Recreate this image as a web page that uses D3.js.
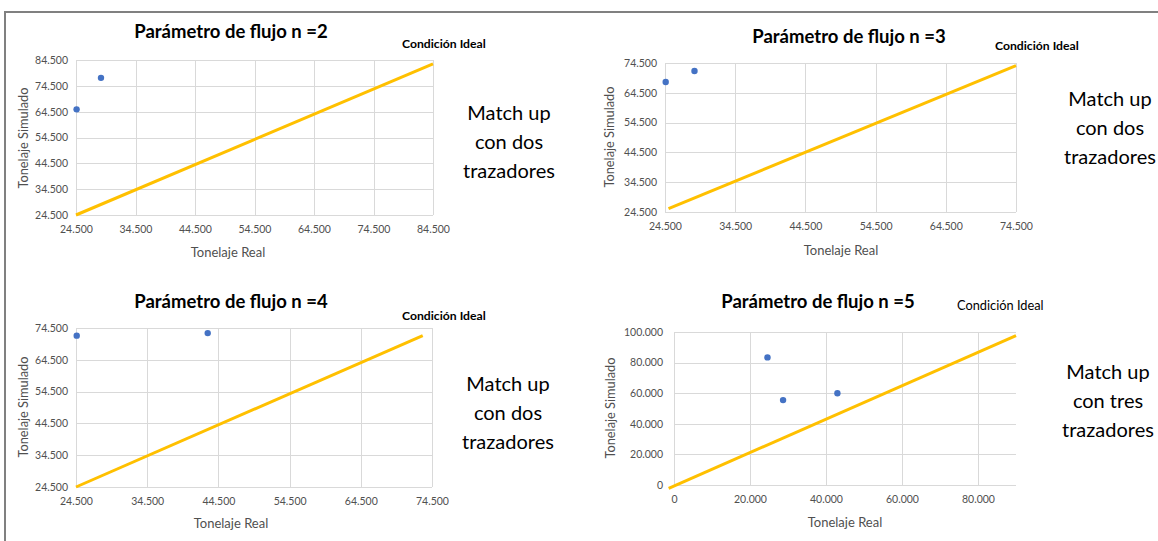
<!DOCTYPE html>
<html>
<head>
<meta charset="utf-8">
<script src="https://cdn.jsdelivr.net/npm/d3@7"></script>
<style>
    body {
        margin: 0;
        background: #fff;
    }
    svg {
        display: block;
        font-family: Lato, "Open Sans", sans-serif;
    }
</style>
</head>
<body>
<script>
// 数据: 真实吨位 / 模拟吨位
const realN2 = [24600, 28700];
const simN2 = [65400, 77600];
const realN3 = [24600, 28700];
const simN3 = [68100, 71800];
const realN4 = [24600, 43000];
const simN4 = [72100, 72900];
const realN5 = [24600, 28700, 43000];
const simN5 = [83400, 55500, 60000];

// 理想线 (Condición Ideal) 的两端
const idealN2 = [[24500, 24500], [84500, 83000]];
const idealN3 = [[25000, 25600], [74500, 73600]];
const idealN4 = [[24500, 24500], [73200, 72100]];
const idealN5 = [[-1400, -2200], [90000, 97600]];

// 刻度
const ticksN2 = [24500, 34500, 44500, 54500, 64500, 74500, 84500];
const ticksN34 = [24500, 34500, 44500, 54500, 64500, 74500];
const ticksN5x = [0, 20000, 40000, 60000, 80000];
const ticksN5y = [0, 20000, 40000, 60000, 80000, 100000];

const titles = ['Parámetro de flujo n =2', 'Parámetro de flujo n =3',
    'Parámetro de flujo n =4', 'Parámetro de flujo n =5'];
const notes = [
    ['Match up', 'con dos', 'trazadores'],
    ['Match up', 'con dos', 'trazadores'],
    ['Match up', 'con dos', 'trazadores'],
    ['Match up', 'con tres', 'trazadores']
];

const width = 1158;
const height = 541;

// 数字格式: 24.500
const locale = d3.formatLocale({decimal: ',', thousands: '.', grouping: [3], currency: ['', '']});
const fmt = locale.format(',d');

// 每个小图的位置
const panels = [
    {
        real: realN2, sim: simN2, ideal: idealN2, xTicks: ticksN2, yTicks: ticksN2,
        xDomain: [24500, 84500], yDomain: [24500, 84500],
        left: 76, right: 433, top: 60, bottom: 215,
        title: [231, 38], cond: [402, 48, true], note: [509, 120], xTitle: [228, 257], yTitle: [24, 138]
    },
    {
        real: realN3, sim: simN3, ideal: idealN3, xTicks: ticksN34, yTicks: ticksN34,
        xDomain: [24500, 74500], yDomain: [24500, 74500],
        left: 665, right: 1016, top: 63, bottom: 212,
        title: [849, 43], cond: [995, 50, true], note: [1110, 106], xTitle: [841, 255], yTitle: [610, 137]
    },
    {
        real: realN4, sim: simN4, ideal: idealN4, xTicks: ticksN34, yTicks: ticksN34,
        xDomain: [24500, 74500], yDomain: [24500, 74500],
        left: 76, right: 432, top: 328, bottom: 487,
        title: [231, 308], cond: [402, 320, true], note: [508, 391], xTitle: [231, 528], yTitle: [24, 407]
    },
    {
        real: realN5, sim: simN5, ideal: idealN5, xTicks: ticksN5x, yTicks: ticksN5y,
        xDomain: [0, 90000], yDomain: [0, 100000],
        left: 674, right: 1016, top: 332, bottom: 485,
        title: [818, 308], cond: [957, 310, false], note: [1108, 379], xTitle: [845, 527], yTitle: [611, 408]
    }
];

const svg = d3.select('body')
    .append('svg')
    .attr('width', width)
    .attr('height', height);

// 外框
svg.append('path')
    .attr('d', `M${width},12H5V${height}`)
    .attr('fill', 'none')
    .attr('stroke', '#808080')
    .attr('stroke-width', 2);

panels.forEach((p, i) => drawPanel(p, i));

/**
 * 画一个小图
 *
 * @param {Object} p 小图配置
 * @param {number} i 序号
 */
function drawPanel(p, i) {
    const x = d3.scaleLinear().domain(p.xDomain).range([p.left, p.right]);
    const y = d3.scaleLinear().domain(p.yDomain).range([p.bottom, p.top]);
    const g = svg.append('g');

    // 网格线
    g.append('g')
        .selectAll('line')
        .data(p.yTicks)
        .join('line')
        .attr('x1', p.left)
        .attr('x2', p.right)
        .attr('y1', d => Math.round(y(d)) + 0.5)
        .attr('y2', d => Math.round(y(d)) + 0.5)
        .attr('stroke', '#d9d9d9');
    g.append('g')
        .selectAll('line')
        .data(p.xTicks)
        .join('line')
        .attr('x1', d => Math.round(x(d)) + 0.5)
        .attr('x2', d => Math.round(x(d)) + 0.5)
        .attr('y1', p.top)
        .attr('y2', p.bottom)
        .attr('stroke', '#d9d9d9');

    // 坐标轴
    const xAxis = g.append('g')
        .attr('transform', `translate(0,${p.bottom})`)
        .call(d3.axisBottom(x).tickValues(p.xTicks).tickFormat(fmt).tickSize(0).tickPadding(11));
    const yAxis = g.append('g')
        .attr('transform', `translate(${p.left},0)`)
        .call(d3.axisLeft(y).tickValues(p.yTicks).tickFormat(fmt).tickSize(0).tickPadding(i === 3 ? 11 : 8));
    [xAxis, yAxis].forEach(a => {
        a.select('.domain').remove();
        a.selectAll('text')
            .attr('fill', '#505050')
            .attr('font-size', '10.5px')
            .attr('font-family', 'Lato, sans-serif');
    });

    // 理想线
    g.append('path')
        .datum(p.ideal)
        .attr('d', d3.line().x(d => x(d[0])).y(d => y(d[1])))
        .attr('fill', 'none')
        .attr('stroke', '#ffc000')
        .attr('stroke-width', 3);

    // 散点
    g.append('g')
        .selectAll('circle')
        .data(p.real)
        .join('circle')
        .attr('cx', d => x(d))
        .attr('cy', (d, k) => y(p.sim[k]))
        .attr('r', 3.2)
        .attr('fill', '#4472c4');

    // 标题
    g.append('text')
        .attr('x', p.title[0])
        .attr('y', p.title[1])
        .attr('text-anchor', 'middle')
        .attr('font-size', '18.5px')
        .attr('font-weight', 'bold')
        .attr('fill', '#000')
        .text(titles[i]);

    g.append('text')
        .attr('x', p.cond[0])
        .attr('y', p.cond[1])
        .attr('font-size', p.cond[2] ? '12.2px' : '12.8px')
        .attr('font-weight', p.cond[2] ? 'bold' : 'normal')
        .attr('fill', '#000')
        .text('Condición Ideal');

    g.append('text')
        .selectAll('tspan')
        .data(notes[i])
        .join('tspan')
        .attr('x', p.note[0])
        .attr('y', (d, k) => p.note[1] + k * 29)
        .attr('text-anchor', 'middle')
        .attr('font-size', '20px')
        .attr('fill', '#000')
        .text(d => d);

    // 轴标题
    g.append('text')
        .attr('x', p.xTitle[0])
        .attr('y', p.xTitle[1])
        .attr('text-anchor', 'middle')
        .attr('font-size', '13px')
        .attr('fill', '#505050')
        .text('Tonelaje Real');
    g.append('text')
        .attr('transform', `translate(${p.yTitle[0]},${p.yTitle[1]}) rotate(-90)`)
        .attr('dy', '0.35em')
        .attr('text-anchor', 'middle')
        .attr('font-size', '12.8px')
        .attr('fill', '#505050')
        .text('Tonelaje Simulado');
}
</script>
</body>
</html>
